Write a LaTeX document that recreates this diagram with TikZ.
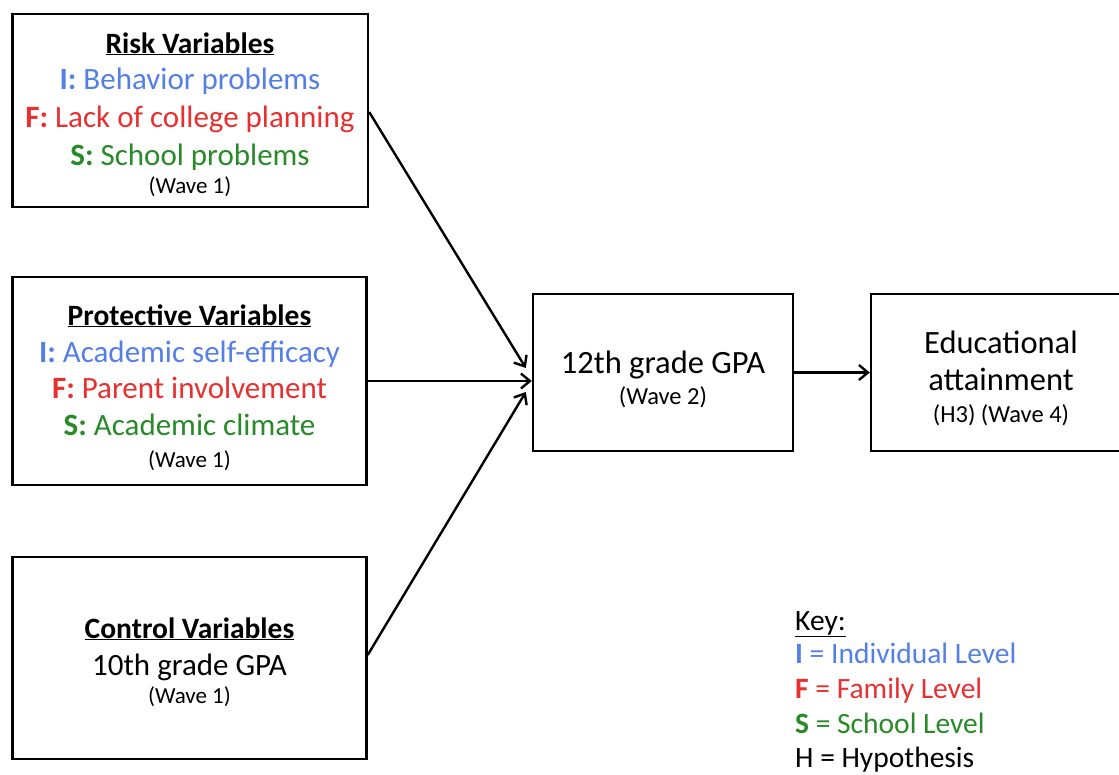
\documentclass[tikz,border=0pt]{standalone}
\usepackage{fontspec}
\setmainfont{Carlito}
\usetikzlibrary{arrows.meta}
\definecolor{iblue}{RGB}{84,128,230}
\definecolor{fred}{RGB}{232,48,48}
\definecolor{sgreen}{RGB}{40,138,40}
\begin{document}
\begin{tikzpicture}[x=1pt,y=-1pt,
  box/.style={draw=black, line width=2.4pt, inner sep=0pt, fill=white},
  big/.style={anchor=base, inner sep=0pt, font=\fontsize{31}{36}\selectfont},
  ttl/.style={anchor=base, inner sep=0pt, font=\fontsize{29.5}{34}\selectfont},
  small/.style={anchor=base, inner sep=0pt, font=\fontsize{23}{27}\selectfont},
  rbig/.style={anchor=base, inner sep=0pt, font=\fontsize{32.5}{38}\selectfont},
  rsmall/.style={anchor=base, inner sep=0pt, font=\fontsize{24.5}{28}\selectfont},
  keytxt/.style={anchor=base west, inner sep=0pt, font=\fontsize{29.5}{34}\selectfont},
  conn/.style={line width=2.4pt, -{Straight Barb[length=9pt,width=15pt,line width=2.4pt]}}]
\useasboundingbox (0,0) rectangle (1119,774);

% boxes
\node[box, minimum width=355.5pt, minimum height=193pt] (risk) at (190.25,110.5) {};
\node[box, minimum width=354pt, minimum height=208pt] (prot) at (189.5,381) {};
\node[box, minimum width=354pt, minimum height=202pt] (ctrl) at (189.5,658) {};
\node[box, minimum width=260pt, minimum height=157pt] (gpa) at (663,372.5) {};
\node[box, minimum width=260pt, minimum height=157pt] (edu) at (1001,372.5) {};

% risk text
\node[ttl] (r1) at (190,53) {\underline{\textbf{Risk Variables}}};
\node[big, text=iblue] (r2) at (190,89) {\textbf{I:} Behavior problems};
\node[big, text=fred] (r3) at (190,127) {\textbf{F:} Lack of college planning};
\node[big, text=sgreen] (r4) at (190,165) {\textbf{S:} School problems};
\node[small] (r5) at (190,193) {(Wave 1)};

% protective text
\node[ttl] (p1) at (189.5,325) {\underline{\textbf{Protective Variables}}};
\node[big, text=iblue] (p2) at (189.5,362) {\textbf{I:} Academic self-efficacy};
\node[big, text=fred] (p3) at (189.5,398) {\textbf{F:} Parent involvement};
\node[big, text=sgreen] (p4) at (189.5,435) {\textbf{S:} Academic climate};
\node[small] (p5) at (189.5,467) {(Wave 1)};

% control text
\node[ttl] (c1) at (189.5,638) {\underline{\textbf{Control Variables}}};
\node[big] (c2) at (189.5,675) {10th grade GPA};
\node[small] (c3) at (189.5,703) {(Wave 1)};

% gpa text
\node[rbig] (g1) at (663,373) {12th grade GPA};
\node[rsmall] (g2) at (663,404) {(Wave 2)};

% edu text
\node[rbig] (e1) at (1001,353) {Educational};
\node[rbig] (e2) at (1001,390) {attainment};
\node[rsmall] (e3) at (1001,422) {(H3) (Wave 4)};

% key
\node[keytxt] (k0) at (795,630) {\underline{Key:}};
\node[keytxt, text=iblue] (k1) at (795,663) {\textbf{I} = Individual Level};
\node[keytxt, text=fred] (k2) at (795,698) {\textbf{F} = Family Level};
\node[keytxt, text=sgreen] (k3) at (795,733) {\textbf{S} = School Level};
\node[keytxt] (k4) at (795,767) {H = Hypothesis};

% connectors
\draw[conn] ([yshift=-1.5pt]risk.east) -- ([xshift=-6pt,yshift=4.5pt]gpa.west);
\draw[conn] (prot.east) -- (prot.east -| gpa.west);
\draw[conn] ([yshift=3pt]ctrl.east) -- ([xshift=-6pt,yshift=-19.5pt]gpa.west);
\draw[conn] (gpa.east) -- (edu.west);
\end{tikzpicture}
\end{document}
